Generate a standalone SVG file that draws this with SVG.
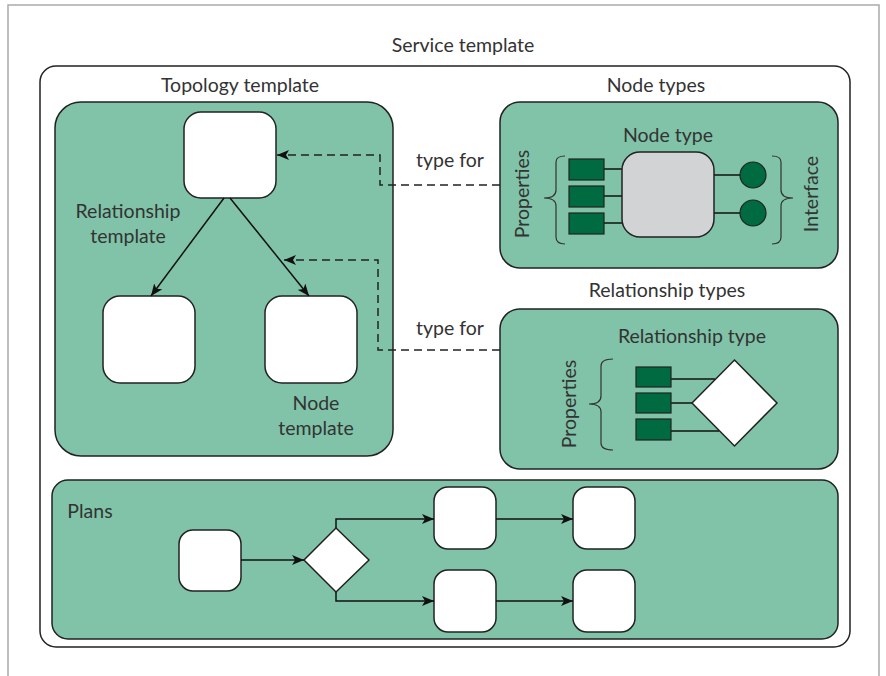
<svg xmlns="http://www.w3.org/2000/svg" width="886" height="676" viewBox="0 0 886 676">
<defs>
<style>
.lbl{font-family:Lato,"Open Sans","Liberation Sans",sans-serif;font-size:19.5px;fill:#333;text-anchor:middle}
.grp{fill:#80c3a8;stroke:#222;stroke-width:1.5}
.wn{fill:#fff;stroke:#222;stroke-width:1.5}
.prop{fill:#006a40;stroke:#222;stroke-width:1.2}
.ln{fill:none;stroke:#111;stroke-width:1.5}
.dash{fill:none;stroke:#222;stroke-width:1.5;stroke-dasharray:8,5}
.brace{fill:none;stroke:#333;stroke-width:1.2}
</style>
<marker id="arr" viewBox="0 0 12 10" refX="12" refY="5" markerWidth="12" markerHeight="10" markerUnits="userSpaceOnUse" orient="auto">
<path d="M0,0 L12,5 L0,10 L3,5 Z" fill="#111"/>
</marker>
</defs>
<rect x="0" y="0" width="886" height="676" fill="#fff"/>
<rect x="8" y="5" width="871" height="700" fill="none" stroke="#aaa" stroke-width="1.5"/>

<g id="service-template">
<rect x="40" y="66" width="810" height="581" rx="16" fill="#fff" stroke="#222" stroke-width="1.5"/>
<text class="lbl" x="463" y="52">Service template</text>
</g>

<g id="topology-template">
<text class="lbl" x="240" y="92">Topology template</text>
<rect class="grp" x="55" y="102" width="338" height="354" rx="26"/>
<text class="lbl" x="128" y="218">Relationship</text>
<text class="lbl" x="128" y="243">template</text>
<text class="lbl" x="316" y="410">Node</text>
<text class="lbl" x="316" y="435">template</text>
</g>
<g id="node-top"><rect class="wn" x="184" y="112" width="92" height="86" rx="17"/></g>
<g id="node-left"><rect class="wn" x="103" y="296" width="92" height="87" rx="17"/></g>
<g id="node-right"><rect class="wn" x="265" y="296" width="92" height="87" rx="17"/></g>

<g id="node-types">
<text class="lbl" x="656" y="92">Node types</text>
<rect class="grp" x="500" y="102" width="338" height="166" rx="20"/>
<text class="lbl" x="668" y="142">Node type</text>
<line class="ln" x1="604" y1="169" x2="622" y2="169"/>
<line class="ln" x1="604" y1="196" x2="622" y2="196"/>
<line class="ln" x1="604" y1="223" x2="622" y2="223"/>
<line class="ln" x1="714" y1="175" x2="740" y2="175"/>
<line class="ln" x1="714" y1="213" x2="740" y2="213"/>
<rect x="622" y="152" width="92" height="85" rx="18" fill="#d2d3d5" stroke="#222" stroke-width="1.5"/>
<rect class="prop" x="569" y="159" width="35" height="21"/>
<rect class="prop" x="569" y="186" width="35" height="21"/>
<rect class="prop" x="569" y="213" width="35" height="21"/>
<circle class="prop" cx="753" cy="175" r="13"/>
<circle class="prop" cx="753" cy="213" r="13"/>
<path class="brace" d="M565,156 Q556,156 556,162 L556,190 Q556,198 544,198 Q556,198 556,206 L556,237 Q556,244 565,244"/>
<path class="brace" d="M772,156 Q781,156 781,162 L781,190 Q781,198 793,198 Q781,198 781,206 L781,237 Q781,244 772,244"/>
<text class="lbl" transform="translate(529,194) rotate(-90)">Properties</text>
<text class="lbl" transform="translate(818,194) rotate(-90)">Interface</text>
</g>

<g id="relationship-types">
<text class="lbl" x="667" y="297">Relationship types</text>
<rect class="grp" x="500" y="309" width="338" height="160" rx="20"/>
<text class="lbl" x="692" y="343">Relationship type</text>
<line class="ln" x1="671" y1="379" x2="715" y2="379"/>
<line class="ln" x1="671" y1="403" x2="692" y2="403"/>
<line class="ln" x1="671" y1="431" x2="719" y2="431"/>
<polygon points="734.5,360 777,403 734.5,446 692,403" fill="#fff" stroke="#222" stroke-width="1.5"/>
<rect class="prop" x="636" y="367" width="35" height="20"/>
<rect class="prop" x="636" y="393" width="35" height="20"/>
<rect class="prop" x="636" y="419" width="35" height="21"/>
<path class="brace" d="M613,359 Q601,359 601,366 L601,396 Q601,404 589,404 Q601,404 601,412 L601,443 Q601,450 613,450"/>
<text class="lbl" transform="translate(576,404) rotate(-90)">Properties</text>
</g>

<g id="plans">
<rect class="grp" x="52" y="480" width="786" height="159" rx="16"/>
<text class="lbl" x="90" y="518">Plans</text>
</g>
<g id="plan-start"><rect class="wn" x="179" y="530" width="62" height="61" rx="14"/></g>
<g id="plan-decision"><polygon points="336,528 369,560 336,592 304,560" fill="#fff" stroke="#222" stroke-width="1.5"/></g>
<g id="plan-a1"><rect class="wn" x="434" y="487" width="62" height="62" rx="14"/></g>
<g id="plan-a2"><rect class="wn" x="573" y="487" width="62" height="62" rx="14"/></g>
<g id="plan-b1"><rect class="wn" x="434" y="570" width="62" height="62" rx="14"/></g>
<g id="plan-b2"><rect class="wn" x="573" y="570" width="62" height="62" rx="14"/></g>

<g id="connectors">
<line class="ln" x1="224" y1="198" x2="151" y2="296" marker-end="url(#arr)"/>
<line class="ln" x1="230" y1="198" x2="309" y2="296" marker-end="url(#arr)"/>
<polyline class="dash" points="500,185 380,185 380,155 277,155" marker-end="url(#arr)"/>
<polyline class="dash" points="500,350 378,350 378,260 284,260" marker-end="url(#arr)"/>
<text class="lbl" x="450" y="167">type for</text>
<text class="lbl" x="450" y="335">type for</text>
<line class="ln" x1="241" y1="560" x2="304" y2="560" marker-end="url(#arr)"/>
<polyline class="ln" points="336,528 336,519 434,519" marker-end="url(#arr)"/>
<polyline class="ln" points="336,592 336,601 434,601" marker-end="url(#arr)"/>
<line class="ln" x1="496" y1="519" x2="573" y2="519" marker-end="url(#arr)"/>
<line class="ln" x1="496" y1="601" x2="573" y2="601" marker-end="url(#arr)"/>
</g>
</svg>
